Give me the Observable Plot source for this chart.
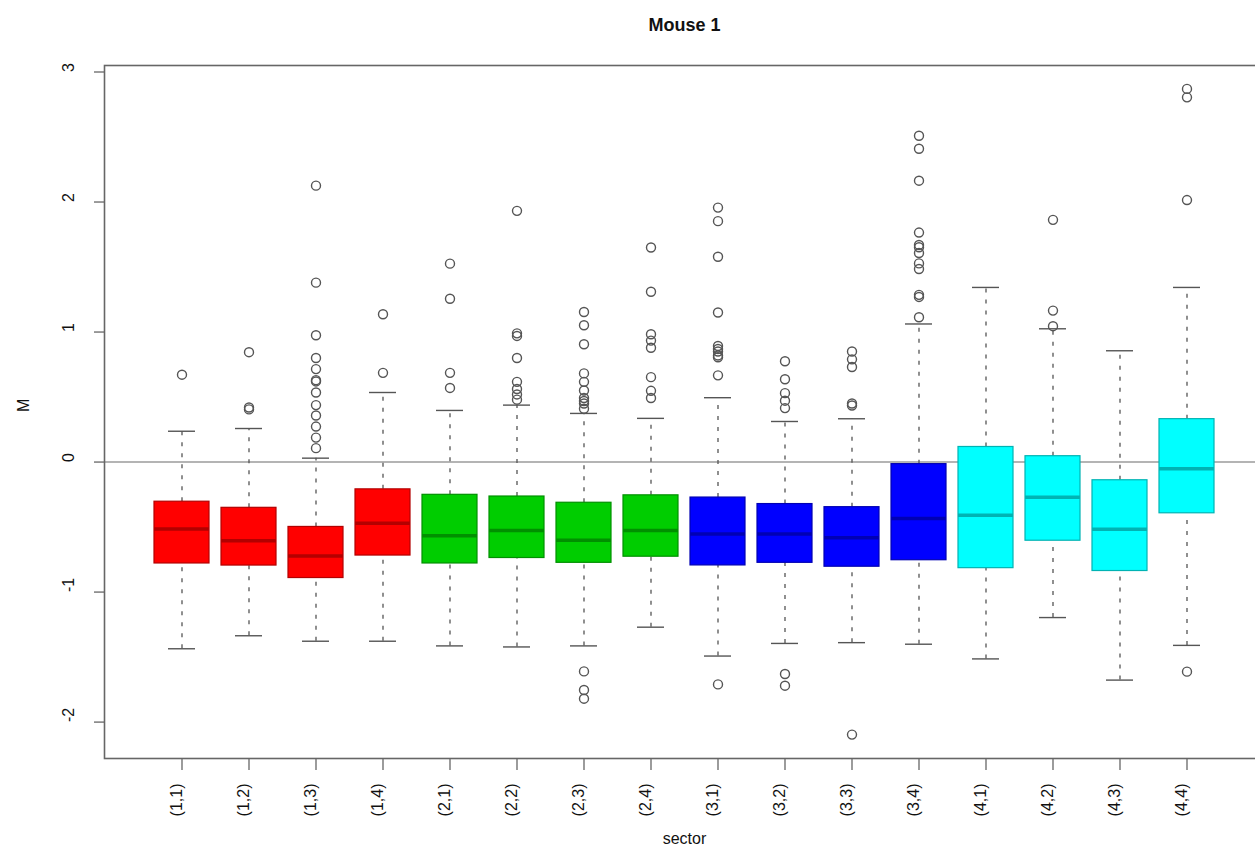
<!DOCTYPE html>
<html>
<head>
<meta charset="utf-8">
<script src="https://cdn.jsdelivr.net/npm/d3@7"></script>
<script src="https://cdn.jsdelivr.net/npm/@observablehq/plot@0.6"></script>
<style>
  html, body { margin: 0; padding: 0; background: #fff; }
  #chart { width: 1255px; height: 856px; }
</style>
</head>
<body>
<div id="chart"></div>
<script>
// Sector labels (row, column) and the fill colour of each sector row
const sectors = ["(1,1)", "(1,2)", "(1,3)", "(1,4)", "(2,1)", "(2,2)", "(2,3)", "(2,4)",
                 "(3,1)", "(3,2)", "(3,3)", "(3,4)", "(4,1)", "(4,2)", "(4,3)", "(4,4)"];
const rowColors = ["#ff0000", "#00cd00", "#0000ff", "#00ffff"];

// Box-plot summaries of M for each sector
const lowerWhisker = [-1.436, -1.336, -1.378, -1.378, -1.414, -1.422, -1.414, -1.270,
                      -1.492, -1.395, -1.389, -1.401, -1.514, -1.196, -1.677, -1.410];
const lowerQuartile = [-0.780, -0.796, -0.892, -0.719, -0.780, -0.738, -0.775, -0.728,
                       -0.795, -0.775, -0.805, -0.755, -0.816, -0.605, -0.838, -0.394];
const medians = [-0.514, -0.606, -0.722, -0.471, -0.567, -0.526, -0.601, -0.526,
                 -0.553, -0.553, -0.583, -0.435, -0.410, -0.271, -0.517, -0.052];
const upperQuartile = [-0.305, -0.352, -0.499, -0.210, -0.252, -0.265, -0.313, -0.256,
                       -0.273, -0.323, -0.347, -0.016, 0.116, 0.045, -0.140, 0.330];
const upperWhisker = [0.237, 0.258, 0.030, 0.535, 0.397, 0.438, 0.374, 0.336,
                      0.495, 0.312, 0.333, 1.062, 1.343, 1.025, 0.856, 1.343];

// Outlying points of each sector
const outliers = [
  [0.672],
  [0.845, 0.405, 0.420],
  [2.126, 1.380, 0.975, 0.800, 0.715, 0.630, 0.620, 0.535, 0.438, 0.358, 0.273, 0.188, 0.107],
  [1.137, 0.686],
  [1.526, 1.256, 0.686, 0.570],
  [1.932, 0.990, 0.970, 0.800, 0.617, 0.562, 0.520, 0.480],
  [1.154, 1.052, 0.906, 0.682, 0.617, 0.550, 0.493, 0.470, 0.450, 0.410, -1.610, -1.753, -1.820],
  [1.650, 1.310, 0.983, 0.934, 0.879, 0.653, 0.548, 0.493],
  [1.957, 1.853, 1.579, 1.150, 0.893, 0.870, 0.850, 0.820, 0.806, 0.667, -1.710],
  [0.775, 0.637, 0.530, 0.472, 0.415, -1.630, -1.720],
  [0.850, 0.790, 0.731, 0.450, 0.435, -2.096],
  [2.510, 2.410, 2.164, 1.765, 1.670, 1.652, 1.608, 1.528, 1.485, 1.286, 1.270, 1.114],
  [],
  [1.863, 1.165, 1.045],
  [],
  [2.870, 2.805, 2.015, -1.612]
];

const yTicks = [-2, -1, 0, 1, 2, 3];
const yDomain = [-2.28, 3.05];

const boxes = sectors.map((s, i) => {
  const fill = rowColors[+s[1] - 1];
  return {
    sector: s,
    fill,
    edge: d3.color(fill).darker(1).formatHex(),
    lo: lowerWhisker[i],
    q1: lowerQuartile[i],
    med: medians[i],
    q3: upperQuartile[i],
    hi: upperWhisker[i]
  };
});
const points = sectors.flatMap((s, i) => outliers[i].map(v => ({sector: s, value: v})));

const whisker = {stroke: "#555", strokeWidth: 1.3, strokeDasharray: "4,7"};
const cap = {stroke: "#555", strokeWidth: 1.4, inset: 20};

const chart = Plot.plot({
  width: 1255,
  height: 856,
  marginLeft: 104,
  marginRight: -9,
  marginTop: 65,
  marginBottom: 98,
  style: {fontFamily: "'Liberation Sans', Arial, sans-serif", fontSize: "16px", color: "#111", background: "#fff"},
  x: {domain: sectors, padding: 0, insetLeft: 42.4, insetRight: 42.4, axis: null},
  y: {domain: yDomain, axis: null},
  color: {type: "identity"},
  marks: [
    Plot.ruleY([0], {stroke: "#b4b4b4", strokeWidth: 2}),
    Plot.ruleX(boxes, {x: "sector", y1: "q3", y2: "hi", ...whisker}),
    Plot.ruleX(boxes, {x: "sector", y1: "lo", y2: "q1", ...whisker}),
    Plot.tickY(boxes, {x: "sector", y: "hi", ...cap}),
    Plot.tickY(boxes, {x: "sector", y: "lo", ...cap}),
    Plot.barY(boxes, {x: "sector", y1: "q1", y2: "q3", fill: "fill", stroke: "edge", strokeWidth: 1.2, insetLeft: 6, insetRight: 6}),
    Plot.tickY(boxes, {x: "sector", y: "med", stroke: "edge", strokeWidth: 3.5, insetLeft: 6, insetRight: 6}),
    Plot.dot(points, {x: "sector", y: "value", r: 4.5, stroke: "#555", strokeWidth: 1.4, fill: "none"}),
    Plot.frame({stroke: "#666", strokeWidth: 1.6}),
    // y axis: ticks and labels parallel to the axis
    Plot.axisY({ticks: yTicks, tickSize: 10, tickFormat: () => "", label: null, stroke: "#666", strokeWidth: 1.3}),
    Plot.text(yTicks, {y: d => d, text: d => String(d), frameAnchor: "left", dx: -36, rotate: -90}),
    Plot.text(["M"], {text: d => d, frameAnchor: "left", dx: -81, rotate: -90}),
    // x axis: ticks and perpendicular sector labels
    Plot.axisX({tickSize: 12, tickFormat: () => "", label: null, stroke: "#666", strokeWidth: 1.3}),
    Plot.text(sectors, {x: d => d, text: d => d, frameAnchor: "bottom", dy: 25, rotate: -90, textAnchor: "end"}),
    Plot.text(["sector"], {text: d => d, frameAnchor: "bottom", dy: 85}),
    // title
    Plot.text(["Mouse 1"], {text: d => d, frameAnchor: "top", dy: -47, fontWeight: "bold", fontSize: 18})
  ]
});

document.getElementById("chart").appendChild(chart);
</script>
</body>
</html>
